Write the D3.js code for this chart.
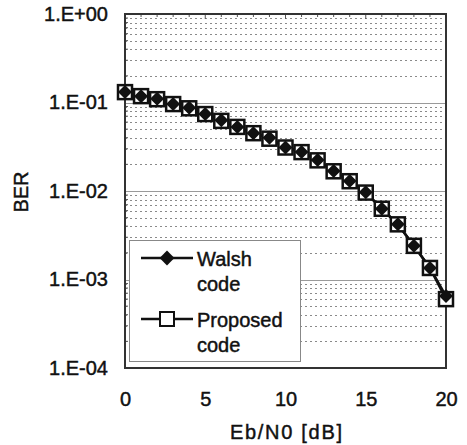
<!DOCTYPE html>
<html>
<head>
<meta charset="utf-8">
<script src="https://cdn.jsdelivr.net/npm/d3@7"></script>
<style>
  html, body { margin: 0; padding: 0; background: #fff; }
  svg { display: block; font-family: "Liberation Sans", Arial, sans-serif; }
  svg text { stroke: #111; stroke-width: 0.45px; }
</style>
</head>
<body>
<div id="chart"></div>
<script>
// Eb/N0 in dB
const ebN0 = [0, 1, 2, 3, 4, 5, 6, 7, 8, 9, 10, 11, 12, 13, 14, 15, 16, 17, 18, 19, 20];
// BER
const walshBer = [0.131, 0.118, 0.110, 0.096, 0.087, 0.074, 0.063, 0.053, 0.045, 0.040,
  0.031, 0.0276, 0.0224, 0.0168, 0.0130, 0.0097, 0.0063, 0.0042, 0.0024, 0.00135, 0.00065];
const proposedBer = [0.131, 0.118, 0.109, 0.096, 0.086, 0.074, 0.062, 0.053, 0.045, 0.039,
  0.031, 0.0275, 0.0222, 0.0167, 0.0129, 0.0096, 0.0063, 0.0042, 0.0024, 0.00135, 0.00060];
const xTicks = [0, 5, 10, 15, 20];
const yTicks = [1, 1e-1, 1e-2, 1e-3, 1e-4];
const yTickLabels = ['1.E+00', '1.E-01', '1.E-02', '1.E-03', '1.E-04'];
const seriesNames = [['Walsh', 'code'], ['Proposed', 'code']];

const W = 467, H = 445;
const m = { left: 125, right: W - 446, top: 14, bottom: H - 368 };
const FS = 20;

const svg = d3.select('#chart').append('svg')
  .attr('width', W)
  .attr('height', H);

const x = d3.scaleLinear().domain([0, 20]).range([m.left, W - m.right]);
const y = d3.scaleLog().domain([1e-4, 1]).range([H - m.bottom, m.top]);

// grid: dotted minors, solid decades
const minors = [];
for (let e = -4; e < 0; e++) {
  for (let k = 2; k <= 9; k++) minors.push(k * Math.pow(10, e));
}
svg.append('g').selectAll('line')
  .data(minors)
  .join('line')
  .attr('x1', x(0)).attr('x2', x(20))
  .attr('y1', d => Math.round(y(d)) + 0.5).attr('y2', d => Math.round(y(d)) + 0.5)
  .attr('stroke', '#8a8a8a')
  .attr('stroke-width', 1)
  .attr('stroke-dasharray', '2,3');

svg.append('g').selectAll('line')
  .data(yTicks.slice(1, -1))
  .join('line')
  .attr('x1', x(0)).attr('x2', x(20))
  .attr('y1', d => Math.round(y(d)) + 0.5).attr('y2', d => Math.round(y(d)) + 0.5)
  .attr('stroke', '#9a9a9a')
  .attr('stroke-width', 1.2);

// small ticks along the top edge
svg.append('g').selectAll('line')
  .data(d3.range(1, 20))
  .join('line')
  .attr('x1', d => x(d)).attr('x2', d => x(d))
  .attr('y1', y(1)).attr('y2', d => y(1) + (d % 5 === 0 ? 5 : 3))
  .attr('stroke', '#555');

// small ticks along the left edge
svg.append('g').selectAll('line')
  .data(minors)
  .join('line')
  .attr('x1', x(0)).attr('x2', x(0) + 3)
  .attr('y1', d => y(d)).attr('y2', d => y(d))
  .attr('stroke', '#555');

// frame
svg.append('rect')
  .attr('x', x(0)).attr('y', y(1))
  .attr('width', x(20) - x(0)).attr('height', y(1e-4) - y(1))
  .attr('fill', 'none')
  .attr('stroke', '#333')
  .attr('stroke-width', 2);

// axes labels
const xAxis = d3.axisBottom(x).tickValues(xTicks).tickSize(0).tickPadding(24);
svg.append('g')
  .attr('transform', `translate(0,${H - m.bottom})`)
  .call(xAxis)
  .call(g => g.select('.domain').remove())
  .selectAll('text')
  .attr('font-size', FS)
  .attr('font-family', '"Liberation Sans", Arial, sans-serif')
  .attr('fill', '#111');

const yAxis = d3.axisLeft(y).tickValues(yTicks).tickSize(0).tickPadding(17)
  .tickFormat((d, i) => yTickLabels[i]);
svg.append('g')
  .attr('transform', `translate(${m.left},0)`)
  .call(yAxis)
  .call(g => g.select('.domain').remove())
  .selectAll('text')
  .attr('font-size', FS)
  .attr('font-family', '"Liberation Sans", Arial, sans-serif')
  .attr('fill', '#111');

svg.append('text')
  .attr('x', 286).attr('y', 439)
  .attr('text-anchor', 'middle')
  .attr('font-size', FS)
  .attr('textLength', 112)
  .attr('lengthAdjust', 'spacing')
  .attr('fill', '#111')
  .text('Eb/N0 [dB]');

svg.append('text')
  .attr('transform', 'translate(28,192) rotate(-90)')
  .attr('text-anchor', 'middle')
  .attr('font-size', FS)
  .attr('fill', '#111')
  .text('BER');

// series
const line = d3.line().x(d => x(d[0])).y(d => y(d[1]));
const walsh = ebN0.map((v, i) => [v, walshBer[i]]);
const proposed = ebN0.map((v, i) => [v, proposedBer[i]]);

svg.append('path')
  .datum(proposed)
  .attr('d', line)
  .attr('fill', 'none')
  .attr('stroke', '#111')
  .attr('stroke-width', 2.5);
svg.append('path')
  .datum(walsh)
  .attr('d', line)
  .attr('fill', 'none')
  .attr('stroke', '#111')
  .attr('stroke-width', 2.5);

const sq = 14;
svg.append('g').selectAll('rect')
  .data(proposed)
  .join('rect')
  .attr('x', d => x(d[0]) - sq / 2)
  .attr('y', d => y(d[1]) - sq / 2)
  .attr('width', sq).attr('height', sq)
  .attr('fill', '#fff')
  .attr('stroke', '#111')
  .attr('stroke-width', 2.5);

const diamond = d3.symbol().type(d3.symbolSquare).size(98);
svg.append('g').selectAll('path')
  .data(walsh)
  .join('path')
  .attr('d', diamond)
  .attr('transform', d => `translate(${x(d[0])},${y(d[1])}) rotate(45)`)
  .attr('fill', '#111');

// legend
const lg = svg.append('g');
lg.append('rect')
  .attr('x', 129.5).attr('y', 240.5)
  .attr('width', 171).attr('height', 121)
  .attr('fill', '#fff')
  .attr('stroke', '#888')
  .attr('stroke-width', 1);

const rows = [258, 319];
lg.selectAll('line.key')
  .data(rows)
  .join('line')
  .attr('class', 'key')
  .attr('x1', 141).attr('x2', 193)
  .attr('y1', d => d).attr('y2', d => d)
  .attr('stroke', '#111')
  .attr('stroke-width', 2.5);

lg.append('path')
  .attr('d', d3.symbol().type(d3.symbolSquare).size(110))
  .attr('transform', `translate(167,${rows[0]}) rotate(45)`)
  .attr('fill', '#111');
lg.append('rect')
  .attr('x', 167 - sq / 2).attr('y', rows[1] - sq / 2)
  .attr('width', sq).attr('height', sq)
  .attr('fill', '#fff')
  .attr('stroke', '#111')
  .attr('stroke-width', 2);

seriesNames.forEach((lines, i) => {
  lines.forEach((t, j) => {
    lg.append('text')
      .attr('x', 197)
      .attr('y', rows[i] + 8 + j * 25)
      .attr('font-size', FS)
      .attr('fill', '#111')
      .text(t);
  });
});
</script>
</body>
</html>
